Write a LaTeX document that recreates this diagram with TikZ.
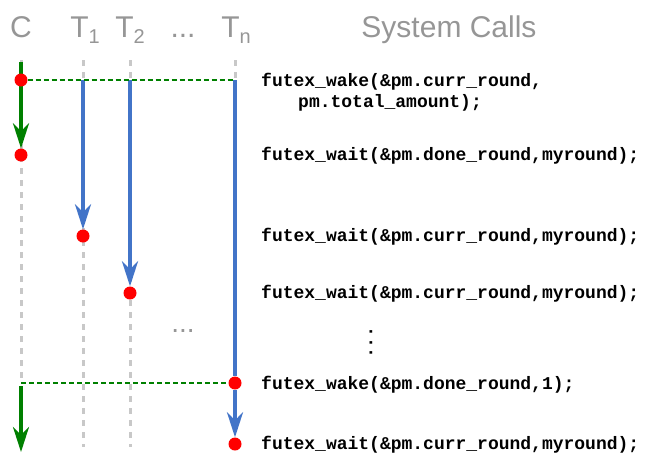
\documentclass[tikz,border=0pt]{standalone}
\usepackage{fontspec}
\setmainfont{Liberation Sans}
\newfontfamily\codefont{Liberation Mono}
\usetikzlibrary{arrows.meta,backgrounds}
\definecolor{lanegray}{RGB}{200,200,200}
\definecolor{headgray}{RGB}{150,150,150}
\definecolor{ctlgreen}{RGB}{0,128,0}
\definecolor{thrblue}{RGB}{66,116,200}
\definecolor{dotred}{RGB}{255,0,0}
\tikzset{
  lane/.style={draw=lanegray, line width=3pt, dash pattern=on 6pt off 6pt},
  ctl/.style={draw=ctlgreen, line width=3.3pt},
  thr/.style={draw=thrblue, line width=3.3pt},
  arr/.style={-{Stealth[length=25pt,width=16pt,inset=8pt]}},
  sig/.style={draw=ctlgreen, line width=1.5pt, dash pattern=on 5pt off 3pt},
  evdot/.style={circle, fill=dotred, minimum size=13pt, inner sep=0pt},
  head/.style={text=headgray, font=\fontsize{30}{34}\selectfont, anchor=base, inner sep=0pt},
  code/.style={font=\codefont\bfseries\fontsize{18}{20}\selectfont, anchor=base west, inner sep=0pt},
}
\begin{document}
\begin{tikzpicture}[x=1pt,y=-1pt]
\useasboundingbox (0,0) rectangle (650,453);
% headers
\node[head] (hC) at (21,37) {C};
\node[head] (hT1) at (85,37) {T\raisebox{-6pt}{\fontsize{20}{20}\selectfont 1}};
\node[head] (hT2) at (130,37) {T\raisebox{-6pt}{\fontsize{20}{20}\selectfont 2}};
\node[head] (hdots) at (183,37) {...};
\node[head] (hTn) at (236,37) {T\raisebox{-6pt}{\fontsize{20}{20}\selectfont n}};
\node[head] (hsys) at (449,37) {System Calls};
% coordinates
\coordinate (cTop) at (21,60);
\coordinate (cStart) at (21,62);
\coordinate (cLaneEnd) at (21,383);
\coordinate (cStart2) at (21,386);
\coordinate (cEnd) at (21,452);
\coordinate (t1Top) at (83,60);
\coordinate (t1Start) at (83,80);
\coordinate (t1End) at (83,447);
\coordinate (t2Top) at (130,60);
\coordinate (t2Start) at (130,80);
\coordinate (t2End) at (130,447);
\coordinate (tnTop) at (235,60);
\coordinate (tnStart) at (235,80);
% event dots
\node[evdot] (dC1) at (21,80) {};
\node[evdot] (dC2) at (21,155) {};
\node[evdot] (dT1) at (83,236) {};
\node[evdot] (dT2) at (130,293) {};
\node[evdot] (dTn1) at (235,383) {};
\node[evdot] (dTn2) at (235,444) {};
\begin{scope}[on background layer]
  \draw[lane] (cTop) -- (cLaneEnd);
  \draw[lane] (t1Top) -- (t1End);
  \draw[lane] (t2Top) -- (t2End);
  \draw[lane] (tnTop) -- (tnStart);
  \draw[ctl,arr] (cStart) -- (dC2);
  \draw[ctl,arr] (cStart2) -- (cEnd);
  \draw[thr,arr] (t1Start) -- (dT1);
  \draw[thr,arr] (t2Start) -- (dT2);
  \draw[thr] (tnStart) -- (dTn1);
  \draw[thr,arr] (dTn1) -- (dTn2);
  \draw[sig] (dC1) -- (tnStart);
  \draw[sig] (cLaneEnd) -- (dTn1);
\end{scope}
% middle ellipses
\node[text=headgray, font=\fontsize{28}{30}\selectfont, anchor=base, inner sep=0pt] (mdots) at (183,332) {...};
\node[font=\codefont\bfseries\fontsize{18}{20}\selectfont, anchor=base, rotate=-90, inner sep=0pt] (vdots) at (369.5,342.5) {...};
% system calls
\node[code] (s1) at (261,86) {futex\_wake(\&pm.curr\_round,};
\node[code] (s2) at (298,107) {pm.total\_amount);};
\node[code] (s3) at (261,160) {futex\_wait(\&pm.done\_round,myround);};
\node[code] (s4) at (261,241) {futex\_wait(\&pm.curr\_round,myround);};
\node[code] (s5) at (261,298) {futex\_wait(\&pm.curr\_round,myround);};
\node[code] (s6) at (261,389) {futex\_wake(\&pm.done\_round,1);};
\node[code] (s7) at (261,449) {futex\_wait(\&pm.curr\_round,myround);};
\end{tikzpicture}
\end{document}
